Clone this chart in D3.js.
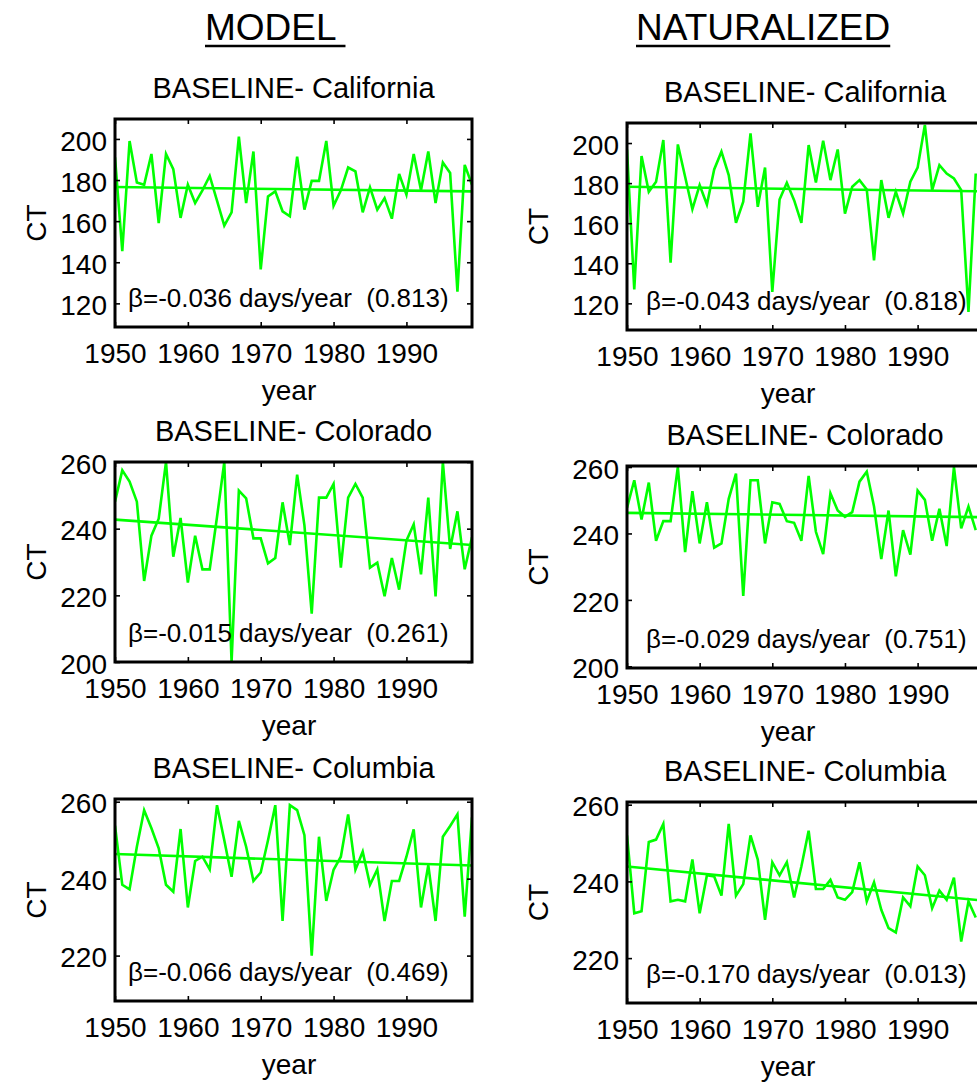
<!DOCTYPE html>
<html>
<head>
<meta charset="utf-8">
<script src="https://cdn.jsdelivr.net/npm/d3@7"></script>
<style>
  html, body { margin: 0; padding: 0; background: #fff; overflow: hidden; }
  svg { display: block; }
  text { font-family: "Liberation Sans", Arial, Helvetica, sans-serif; fill: #000; }
</style>
</head>
<body>
<div id="chart"></div>
<script>
// ---- data -------------------------------------------------------------
const years = d3.range(1950, 2000);
const xTicks = [1950, 1960, 1970, 1980, 1990];

const columnHeads = ["MODEL", "NATURALIZED"];
const titles = [
  "BASELINE- California", "BASELINE- California",
  "BASELINE- Colorado", "BASELINE- Colorado",
  "BASELINE- Columbia", "BASELINE- Columbia"
];

// CT (day of year of the centre of mass of annual flow)
const caModel = [191.1, 145.4, 199, 178.8, 177.7, 192.7, 159.1, 192.7, 185.3, 161.6,
  177.7, 168.8, 175, 182, 170, 157.8, 164.3, 201.1, 168.8, 193.9,
  136.5, 172, 174.5, 164.8, 162.4, 191.4, 165.6, 179.6, 179.6, 199,
  167.5, 175, 186.1, 184.2, 164.3, 176.4, 165.6, 171.2, 161.2, 183,
  172.9, 192.7, 175, 193.9, 168.8, 188.5, 183.4, 125.7, 187.4, 177.7];
const caNat = [196.8, 127, 193.5, 175.7, 180.7, 201.5, 140.3, 199.3, 183.2, 167,
  179, 169.3, 186.8, 195.7, 184, 160.2, 170.7, 204.8, 168.2, 187.8,
  125.7, 171.8, 180.2, 171.5, 160.2, 199, 180.3, 201.2, 181.5, 196.8,
  164.8, 178.2, 181.5, 176.8, 141.5, 181.5, 162.7, 175.7, 164.8, 180.7,
  187.7, 209, 176.5, 189, 184.8, 182.3, 176.5, 115.7, 184.8];
const coModel = [248.1, 257.5, 254.1, 248.1, 224.3, 237.9, 243, 260, 231.6, 243.2,
  223.8, 237.9, 227.8, 227.8, 243.5, 260, 200, 251.4, 249.1, 237.1,
  237.1, 229.6, 231.2, 247.9, 235.1, 256.2, 241, 214.5, 249.3, 249.3,
  253.4, 228.3, 249.3, 253.4, 249.3, 228.3, 229.8, 219.7, 231.2, 221.7,
  236.4, 241.3, 226.3, 249.3, 219.7, 260, 233.9, 245.2, 227.8, 237.4];
const coNat = [247.7, 256, 244.2, 255.3, 237.8, 243.7, 243.7, 260, 234.4, 252.7,
  237, 249.4, 235.7, 237, 250.4, 258, 221.2, 256, 256, 237,
  249.4, 248.9, 243.7, 243.2, 237.8, 257.3, 240.5, 233.8, 252.1, 246.9,
  245, 246.4, 255.6, 258.6, 248.1, 232.3, 246.9, 227.1, 241, 233.6,
  252.9, 250.1, 237.8, 247.4, 236.2, 260, 241.5, 248.1, 241];
const colModel = [253.8, 238.4, 237.2, 248.3, 257.8, 253.1, 247.9, 238.4, 236.6, 252.9,
  232.5, 244.6, 245.7, 242.4, 259.1, 250, 240.5, 255, 248.3, 239.4,
  241.6, 250, 259.1, 229, 259.1, 257.8, 251.3, 220, 250.9, 234.2,
  242.3, 245.7, 256.7, 242.3, 247, 238.4, 242.4, 229, 239.4, 239.4,
  245.7, 252.8, 232.5, 243.5, 229, 250.9, 253.7, 256.7, 230.1, 255.9];
const colNat = [252, 231.7, 232.2, 250.3, 250.9, 255, 234.8, 235.2, 234.8, 245.7,
  231.7, 241.6, 241.3, 236.3, 255, 236.3, 239.3, 252, 245.7, 230,
  245, 241.6, 245, 235.8, 243.9, 253.2, 238, 238, 240.4, 235.8,
  235.2, 237.2, 245, 234.8, 239.8, 232.6, 227.8, 226.7, 235.8, 233.5,
  243.9, 241.6, 233, 237.6, 235.2, 241, 224.3, 234.8, 230.6];

// fitted linear trend, value at 1950 and at 1999
const trendStart = [176.6, 178.2, 242.7, 246.2, 246.4, 243.9];
const trendEnd   = [174.5, 175.9, 235.1, 244.9, 243.4, 235.0];

const betaLabels = [
  "\u03B2=-0.036 days/year  (0.813)", "\u03B2=-0.043 days/year  (0.818)",
  "\u03B2=-0.015 days/year  (0.261)", "\u03B2=-0.029 days/year  (0.751)",
  "\u03B2=-0.066 days/year  (0.469)", "\u03B2=-0.170 days/year  (0.013)"
];

const caTicks = [120, 140, 160, 180, 200];
const coTicks = [200, 220, 240, 260];
const colTicks = [220, 240, 260];

const series = [caModel, caNat, coModel, coNat, colModel, colNat];
const yTickSets = [caTicks, caTicks, coTicks, coTicks, colTicks, colTicks];
const yDomains = [[108.5, 209.7], [106.7, 210], [200, 260], [199.5, 260.3], [208.2, 260.7], [208.3, 260.7]];

// ---- layout -------------------------------------------------------------
const W = 977, H = 1083;
const colX = [[115, 472], [627, 983]];
const rowY = [[[119, 327], [123, 330]], [[462, 662], [466, 668]], [[799, 1001], [802, 1003]]];
const ctX = [36, 538];
const yearX = [289, 788];
const betaInset = [13, 19];
const GREEN = "#00ff00";

const svg = d3.select("#chart").append("svg")
  .attr("width", W).attr("height", H)
  .attr("viewBox", `0 0 ${W} ${H}`);

// column headers, underlined
const headX = [205, 636];
columnHeads.forEach((h, i) => {
  const t = svg.append("text")
    .attr("x", headX[i]).attr("y", 40)
    .style("font-size", "37px")
    .style("white-space", "pre")
    .text(i === 0 ? h + " " : h);
  const len = t.node().getComputedTextLength();
  svg.append("line")
    .attr("x1", headX[i]).attr("x2", headX[i] + len)
    .attr("y1", 46).attr("y2", 46)
    .attr("stroke", "#000").attr("stroke-width", 2.5);
});

series.forEach((vals, k) => {
  const col = k % 2, row = Math.floor(k / 2);
  const [x0, x1] = colX[col];
  const [y0, y1] = rowY[row][col];

  const x = d3.scaleLinear().domain([1950, 1999]).range([x0, x1]);
  const y = d3.scaleLinear().domain(yDomains[k]).range([y1, y0]);

  const g = svg.append("g");
  const clipId = "clip" + k;
  g.append("clipPath").attr("id", clipId)
    .append("rect").attr("x", x0).attr("y", y0)
    .attr("width", x1 - x0).attr("height", y1 - y0);

  // title
  g.append("text")
    .attr("x", (x0 + x1) / 2).attr("y", y0 - 21)
    .attr("text-anchor", "middle")
    .style("font-size", "29px")
    .text(titles[k]);

  // data line and trend
  const line = d3.line().x((d, i) => x(years[i])).y(d => y(d));
  const plot = g.append("g").attr("clip-path", `url(#${clipId})`);
  plot.append("path")
    .datum(vals)
    .attr("d", line)
    .attr("fill", "none").attr("stroke", GREEN)
    .attr("stroke-width", 2.6).attr("stroke-linejoin", "miter");
  const trendLine = d3.line().x(d => x(d[0])).y(d => y(d[1]));
  plot.append("path")
    .datum([[1950, trendStart[k]], [1999, trendEnd[k]]])
    .attr("d", trendLine)
    .attr("fill", "none").attr("stroke", GREEN).attr("stroke-width", 2.6);

  // axes with inward ticks on all four sides
  const styleAxis = sel => {
    sel.select(".domain").remove();
    sel.selectAll(".tick line").attr("stroke", "#000").attr("stroke-width", 1.6);
    sel.selectAll("text").style("font-size", "28px").attr("fill", "#000")
      .style("font-family", "'Liberation Sans', Arial, sans-serif");
  };
  const yt = yTickSets[k];
  g.append("g").attr("transform", `translate(${x0},0)`)
    .call(d3.axisLeft(y).tickValues(yt).tickSize(-5).tickPadding(8).tickFormat(d3.format("d")))
    .call(styleAxis)
    .call(s => s.selectAll("text").attr("x", -8).attr("dy", "0.40em"));
  g.append("g").attr("transform", `translate(${x1},0)`)
    .call(d3.axisRight(y).tickValues(yt).tickSize(-5).tickFormat(""))
    .call(styleAxis);
  g.append("g").attr("transform", `translate(0,${y1})`)
    .call(d3.axisBottom(x).tickValues(xTicks).tickSize(-5).tickFormat(d3.format("d")))
    .call(styleAxis)
    .call(s => s.selectAll("text").attr("y", 36).attr("dy", 0));
  g.append("g").attr("transform", `translate(0,${y0})`)
    .call(d3.axisTop(x).tickValues(xTicks).tickSize(-5).tickFormat(""))
    .call(styleAxis);

  // axes box
  g.append("rect")
    .attr("x", x0).attr("y", y0)
    .attr("width", x1 - x0).attr("height", y1 - y0)
    .attr("fill", "none").attr("stroke", "#000").attr("stroke-width", 3);

  // trend statistic
  g.append("text")
    .attr("x", x0 + betaInset[col]).attr("y", y1 - 20)
    .style("font-size", "26px")
    .style("white-space", "pre")
    .text(betaLabels[k]);

  // axis labels
  g.append("text")
    .attr("x", yearX[col]).attr("y", y1 + 73)
    .attr("text-anchor", "middle")
    .style("font-size", "28px")
    .text("year");
  g.append("text")
    .attr("transform", `translate(${ctX[col] + 10},${(y0 + y1) / 2}) rotate(-90)`)
    .attr("text-anchor", "middle")
    .style("font-size", "28px")
    .text("CT");
});
</script>
</body>
</html>
